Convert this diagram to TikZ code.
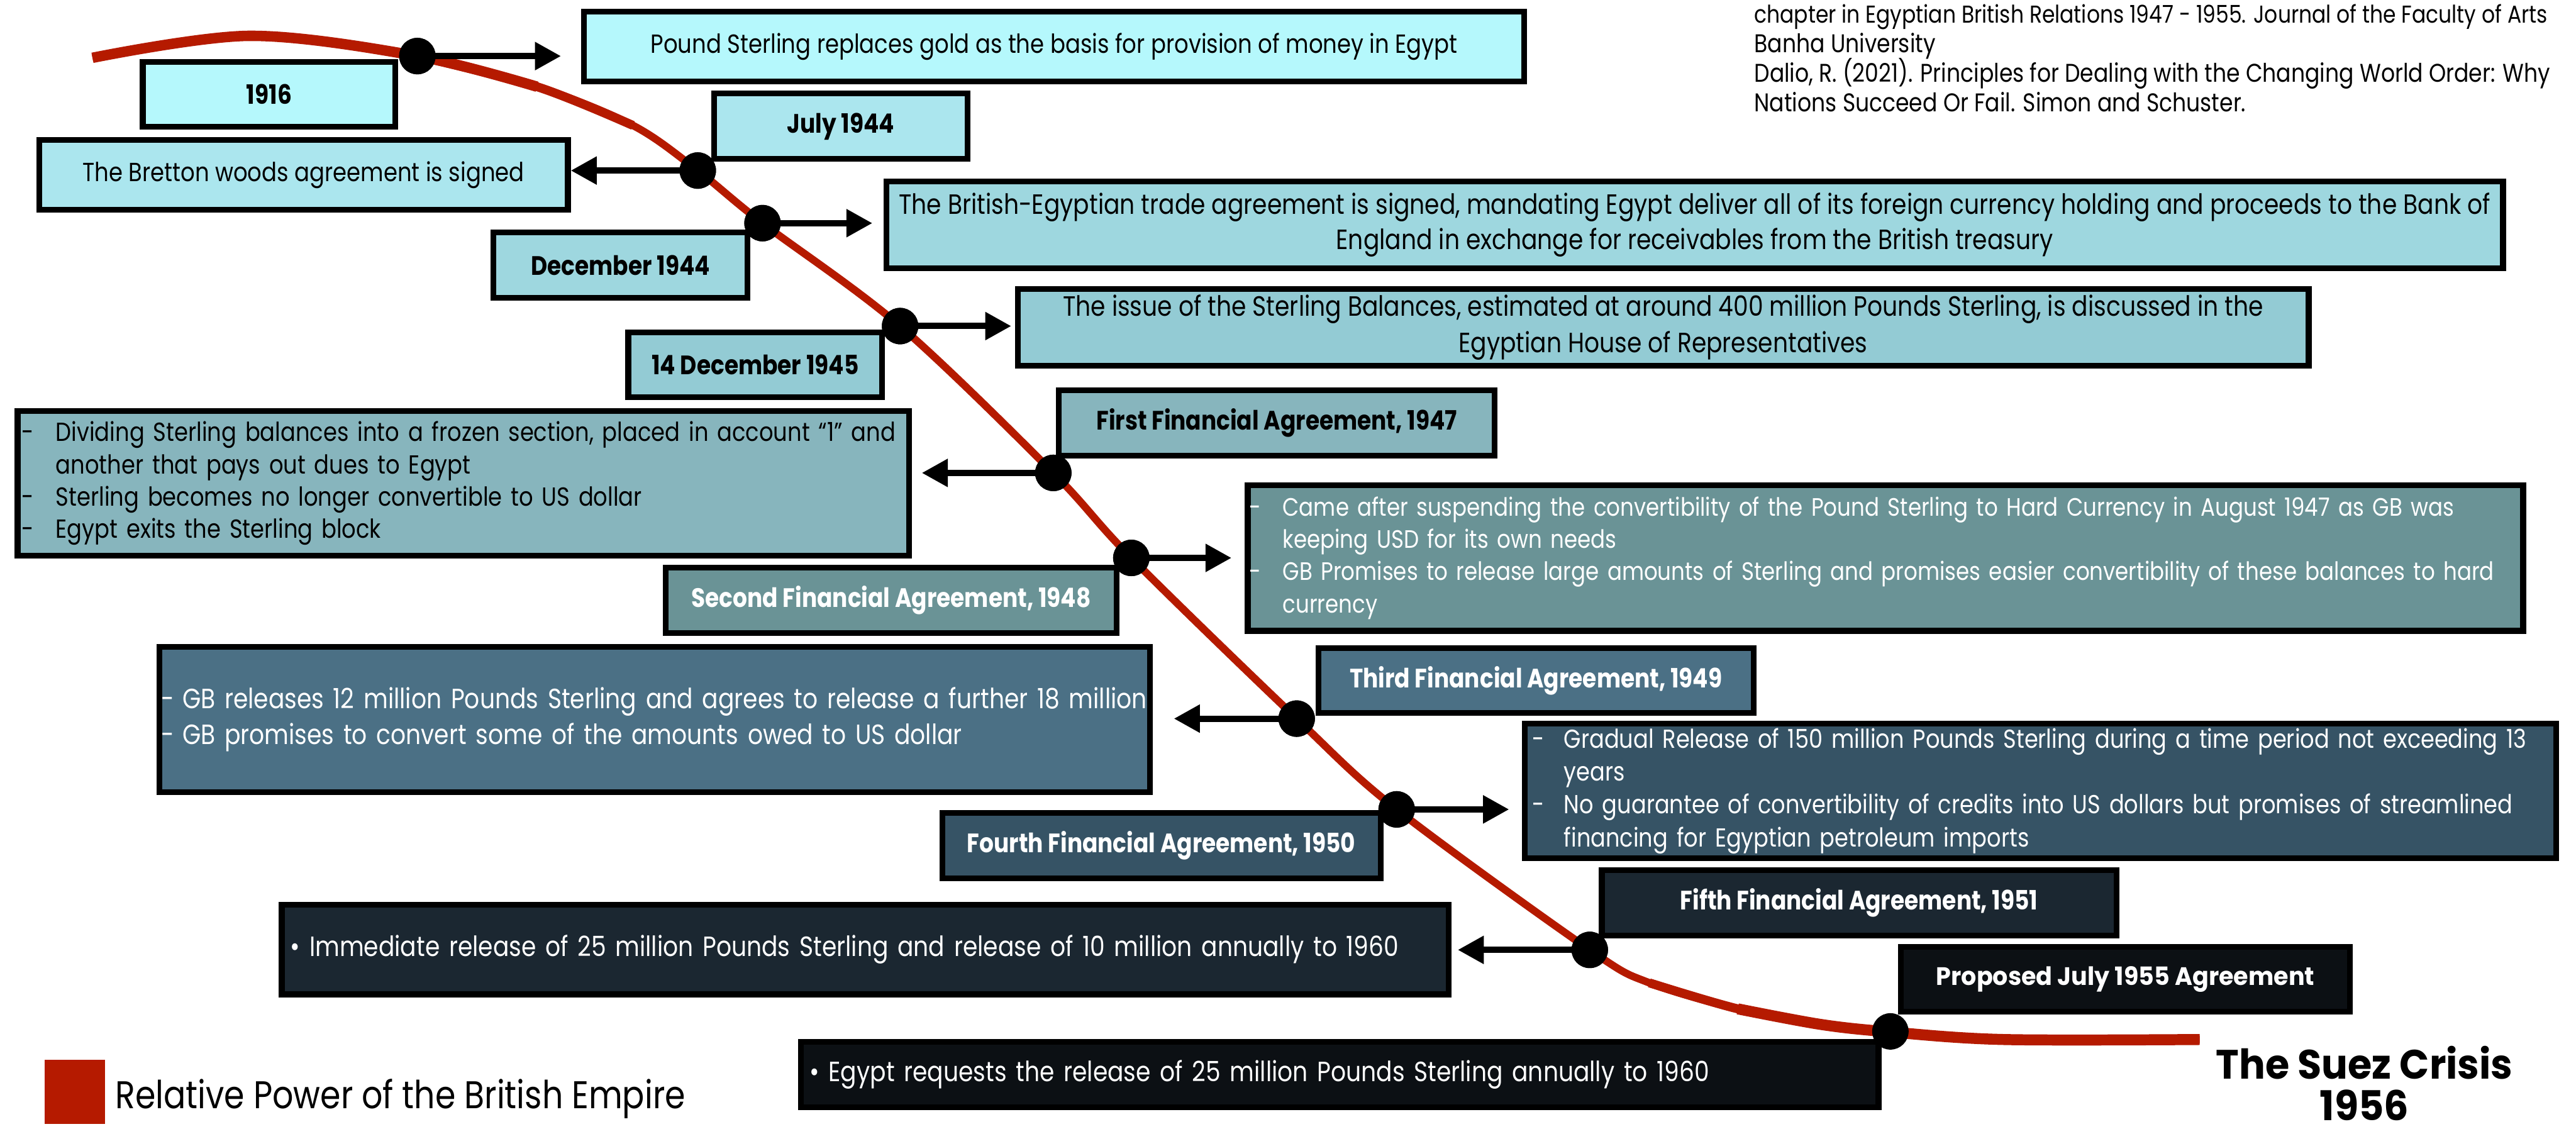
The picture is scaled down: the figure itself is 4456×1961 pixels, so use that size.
\documentclass[tikz,border=0pt]{standalone}
\usepackage{fontspec}
\setmainfont{Poppins}[FakeStretch=0.85]
\newfontfamily\widesans{Poppins}[FakeStretch=0.95]
\usetikzlibrary{arrows.meta}

\definecolor{redline}{HTML}{B51A00}
\definecolor{toneA}{HTML}{B5F8FC}
\definecolor{toneB}{HTML}{ABE6EE}
\definecolor{toneC}{HTML}{9ED7DF}
\definecolor{toneD}{HTML}{93CBD4}
\definecolor{toneE}{HTML}{87B5BD}
\definecolor{toneF}{HTML}{6A9396}
\definecolor{toneG}{HTML}{4B7085}
\definecolor{toneH}{HTML}{365365}
\definecolor{toneI}{HTML}{1B2731}
\definecolor{toneJ}{HTML}{0C1014}

\newcommand\dashitem[1]{\makebox[#1][l]{-}}

\tikzset{
  box/.style={draw=black, line width=0.1cm, inner sep=0pt, anchor=center},
  dot/.style={circle, fill=black, minimum size=0.63cm, inner sep=0pt},
  arr/.style={line width=0.11cm, -{Triangle[length=0.45cm,width=0.46cm]}},
  datelbl/.style={font=\bfseries\fontsize{13.1}{15}\selectfont},
  body/.style={font=\fontsize{12.9}{16.5}\selectfont},
  bigbody/.style={font=\fontsize{13.7}{17}\selectfont},
}

\begin{document}
\begin{tikzpicture}[x=0.01cm, y=-0.01cm]
\useasboundingbox (0,0) rectangle (4456,1961);
\fill[white] (0,0) rectangle (4456,1961);

% event boxes
\node[box, fill=toneA, body, minimum width=16.25cm, minimum height=1.21cm] (A) at (1823.5,80.5)
  {Pound Sterling replaces gold as the basis for provision of money in Egypt};
\node[box, fill=toneA, datelbl, minimum width=4.37cm, minimum height=1.12cm] (B) at (465.5,163) {1916};
\node[box, fill=toneB, datelbl, minimum width=4.39cm, minimum height=1.13cm] (C) at (1454.5,218.5) {July 1944};
\node[box, fill=toneB, body, minimum width=9.14cm, minimum height=1.21cm] (D) at (525,302.5)
  {The Bretton woods agreement is signed};
\node[box, fill=toneC, datelbl, minimum width=4.39cm, minimum height=1.13cm] (E) at (1073.5,458.5) {December 1944};
\node[box, fill=toneC, font=\fontsize{13.7}{17.1}\selectfont, align=center, minimum width=27.95cm, minimum height=1.50cm] (F) at (2931.5,389)
  {The British-Egyptian trade agreement is signed, mandating Egypt deliver all of its foreign currency holding and proceeds to the Bank of\\
   England in exchange for receivables from the British treasury};
\node[box, fill=toneD, datelbl, minimum width=4.39cm, minimum height=1.12cm] (G) at (1306.5,631) {14 December 1945};
\node[box, fill=toneD, font=\fontsize{13.7}{17.9}\selectfont, align=center, minimum width=22.32cm, minimum height=1.33cm] (H) at (2877,566.5)
  {The issue of the Sterling Balances, estimated at around 400 million Pounds Sterling, is discussed in the\\
   Egyptian House of Representatives};
\node[box, fill=toneE, datelbl, minimum width=7.53cm, minimum height=1.13cm] (I) at (2208.5,731.5) {First Financial Agreement, 1947};
\node[box, fill=toneE, font=\fontsize{12.85}{15.9}\selectfont, align=left, text width=15.27cm, minimum width=15.41cm, minimum height=2.50cm] (J) at (801.5,836)
  {\dashitem{0.59cm}Dividing Sterling balances into a frozen section, placed in account “1” and\\
   \hspace*{0.59cm}another that pays out dues to Egypt\\
   \dashitem{0.59cm}Sterling becomes no longer convertible to US dollar\\
   \dashitem{0.59cm}Egypt exits the Sterling block};
\node[box, fill=toneF, datelbl, text=white, minimum width=7.79cm, minimum height=1.13cm] (K) at (1541.5,1038.5) {Second Financial Agreement, 1948};
\node[box, fill=toneF, text=white, font=\fontsize{12.4}{15.9}\selectfont, align=left, text width=22.0cm, minimum width=22.05cm, minimum height=2.52cm] (L) at (3261.5,965)
  {\dashitem{0.58cm}Came after suspending the convertibility of the Pound Sterling to Hard Currency in August 1947 as GB was\\
   \hspace*{0.58cm}keeping USD for its own needs\\
   \dashitem{0.58cm}GB Promises to release large amounts of Sterling and promises easier convertibility of these balances to hard\\
   \hspace*{0.58cm}currency};
\node[box, fill=toneG, datelbl, text=white, minimum width=7.52cm, minimum height=1.12cm] (M) at (2657,1177) {Third Financial Agreement, 1949};
\node[box, fill=toneG, text=white, font=\fontsize{13.7}{17.6}\selectfont, align=left, text width=17.05cm, minimum width=17.13cm, minimum height=2.51cm] (N) at (1132.5,1244.5)
  {\dashitem{0.36cm}GB releases 12 million Pounds Sterling and agrees to release a further 18 million\\
   \dashitem{0.36cm}GB promises to convert some of the amounts owed to US dollar};
\node[box, fill=toneH, text=white, font=\fontsize{12.8}{16.2}\selectfont, align=left, text width=17.57cm, minimum width=17.83cm, minimum height=2.32cm] (O) at (3529.5,1368)
  {\dashitem{0.55cm}Gradual Release of 150 million Pounds Sterling during a time period not exceeding 13\\
   \hspace*{0.55cm}years\\
   \dashitem{0.55cm}No guarantee of convertibility of credits into US dollars but promises of streamlined\\
   \hspace*{0.55cm}financing for Egyptian petroleum imports};
\node[box, fill=toneH, datelbl, text=white, minimum width=7.58cm, minimum height=1.13cm] (P) at (2009,1462.5) {Fourth Financial Agreement, 1950};
\node[box, fill=toneI, datelbl, text=white, minimum width=8.90cm, minimum height=1.13cm] (Q) at (3216,1561.5) {Fifth Financial Agreement, 1951};
\node[box, fill=toneI, text=white, bigbody, align=left, text width=19.87cm, minimum width=20.17cm, minimum height=1.55cm] (R) at (1496.5,1642.5)
  {• Immediate release of 25 million Pounds Sterling and release of 10 million annually to 1960};
\node[box, fill=toneJ, text=white, font=\widesans\bfseries\fontsize{12.4}{15}\selectfont, minimum width=7.77cm, minimum height=1.12cm] (S) at (3676.5,1694)
  {Proposed July 1955 Agreement};
\node[box, fill=toneJ, text=white, bigbody, align=left, text width=18.33cm, minimum width=18.63cm, minimum height=1.13cm] (T) at (2317.5,1858.5)
  {• Egypt requests the release of 25 million Pounds Sterling annually to 1960};

% relative power of the empire: thinner in the middle, heavier at both ends
\draw[redline, line width=0.13cm] plot[smooth, tension=0.55] coordinates {
  (160,100) (432,62) (722,97) (929,150) (1095,217) (1207,295) (1319,386) (1557,564)
  (1822,818) (1957,965) (2243,1243) (2416,1400) (2750,1643) (2853,1700)
  (3006,1745) (3150,1772) (3270,1785) (3465,1798) (3805,1798)};
\draw[redline, line width=0.18cm] plot[smooth, tension=0.55] coordinates {
  (160,100) (432,62) (722,97) (929,150)};
\draw[redline, line width=0.155cm] plot[smooth, tension=0.55] coordinates {
  (722,97) (929,150) (1095,217)};
\draw[redline, line width=0.155cm] plot[smooth, tension=0.55] coordinates {
  (2853,1700) (3006,1745) (3150,1772)};
\draw[redline, line width=0.19cm] plot[smooth, tension=0.55] coordinates {
  (3006,1745) (3150,1772) (3270,1785) (3465,1798) (3805,1798)};

% event markers
\node[dot] (d1) at (722,97) {};
\node[dot] (d2) at (1207,295) {};
\node[dot] (d3) at (1319,386) {};
\node[dot] (d4) at (1557,564) {};
\node[dot] (d5) at (1822,818) {};
\node[dot] (d6) at (1957,965) {};
\node[dot] (d7) at (2243,1243) {};
\node[dot] (d8) at (2416,1400) {};
\node[dot] (d9) at (2750,1643) {};
\node[dot] (d10) at (3270,1784) {};

% connectors from markers to descriptions
\draw[arr, shorten >=0.35cm] (d1.center) -- (d1.center -| A.west);
\draw[arr] (d2.center) -- (d2.center -| D.east);
\draw[arr, shorten >=0.19cm] (d3.center) -- (d3.center -| F.west);
\draw[arr, shorten >=0.06cm] (d4.center) -- (d4.center -| H.west);
\draw[arr, shorten >=0.17cm] (d5.center) -- (d5.center -| J.east);
\draw[arr, shorten >=0.23cm] (d6.center) -- (d6.center -| L.west);
\draw[arr, shorten >=0.36cm] (d7.center) -- (d7.center -| N.east);
\draw[arr, shorten >=0.22cm] (d8.center) -- (d8.center -| O.west);
\draw[arr, shorten >=0.11cm] (d9.center) -- (d9.center -| R.east);
\foreach \d in {d1,d2,d3,d4,d5,d6,d7,d8,d9}
  \fill[black] (\d) circle (0.315cm);

% sources
\begin{scope}[every node/.style={anchor=base west, inner sep=0pt, font=\fontsize{12.6}{15}\selectfont}]
\node[font=\fontsize{12.0}{15}\selectfont] (ref1) at (3034,40) {chapter in Egyptian British Relations 1947 - 1955. Journal of the Faculty of Arts};
\node (ref2) at (3034,91) {Banha University};
\node (ref3) at (3034,142) {Dalio, R. (2021). Principles for Dealing with the Changing World Order: Why};
\node (ref4) at (3034,193) {Nations Succeed Or Fail. Simon and Schuster.};
\end{scope}

% legend
\node[fill=redline, minimum width=1.05cm, minimum height=1.11cm, inner sep=0pt] (key) at (129.5,1888.5) {};
\node[anchor=base west, inner sep=0pt, font=\fontsize{19}{22}\selectfont] (keytext) at (199,1917)
  {Relative Power of the British Empire};

% end point
\node[anchor=base, inner sep=0pt, font=\widesans\bfseries\fontsize{20.2}{22}\selectfont] (suez1) at (4090,1866) {The Suez Crisis};
\node[anchor=base, inner sep=0pt, font=\widesans\bfseries\fontsize{20.2}{22}\selectfont] (suez2) at (4090,1938) {1956};
\end{tikzpicture}
\end{document}
